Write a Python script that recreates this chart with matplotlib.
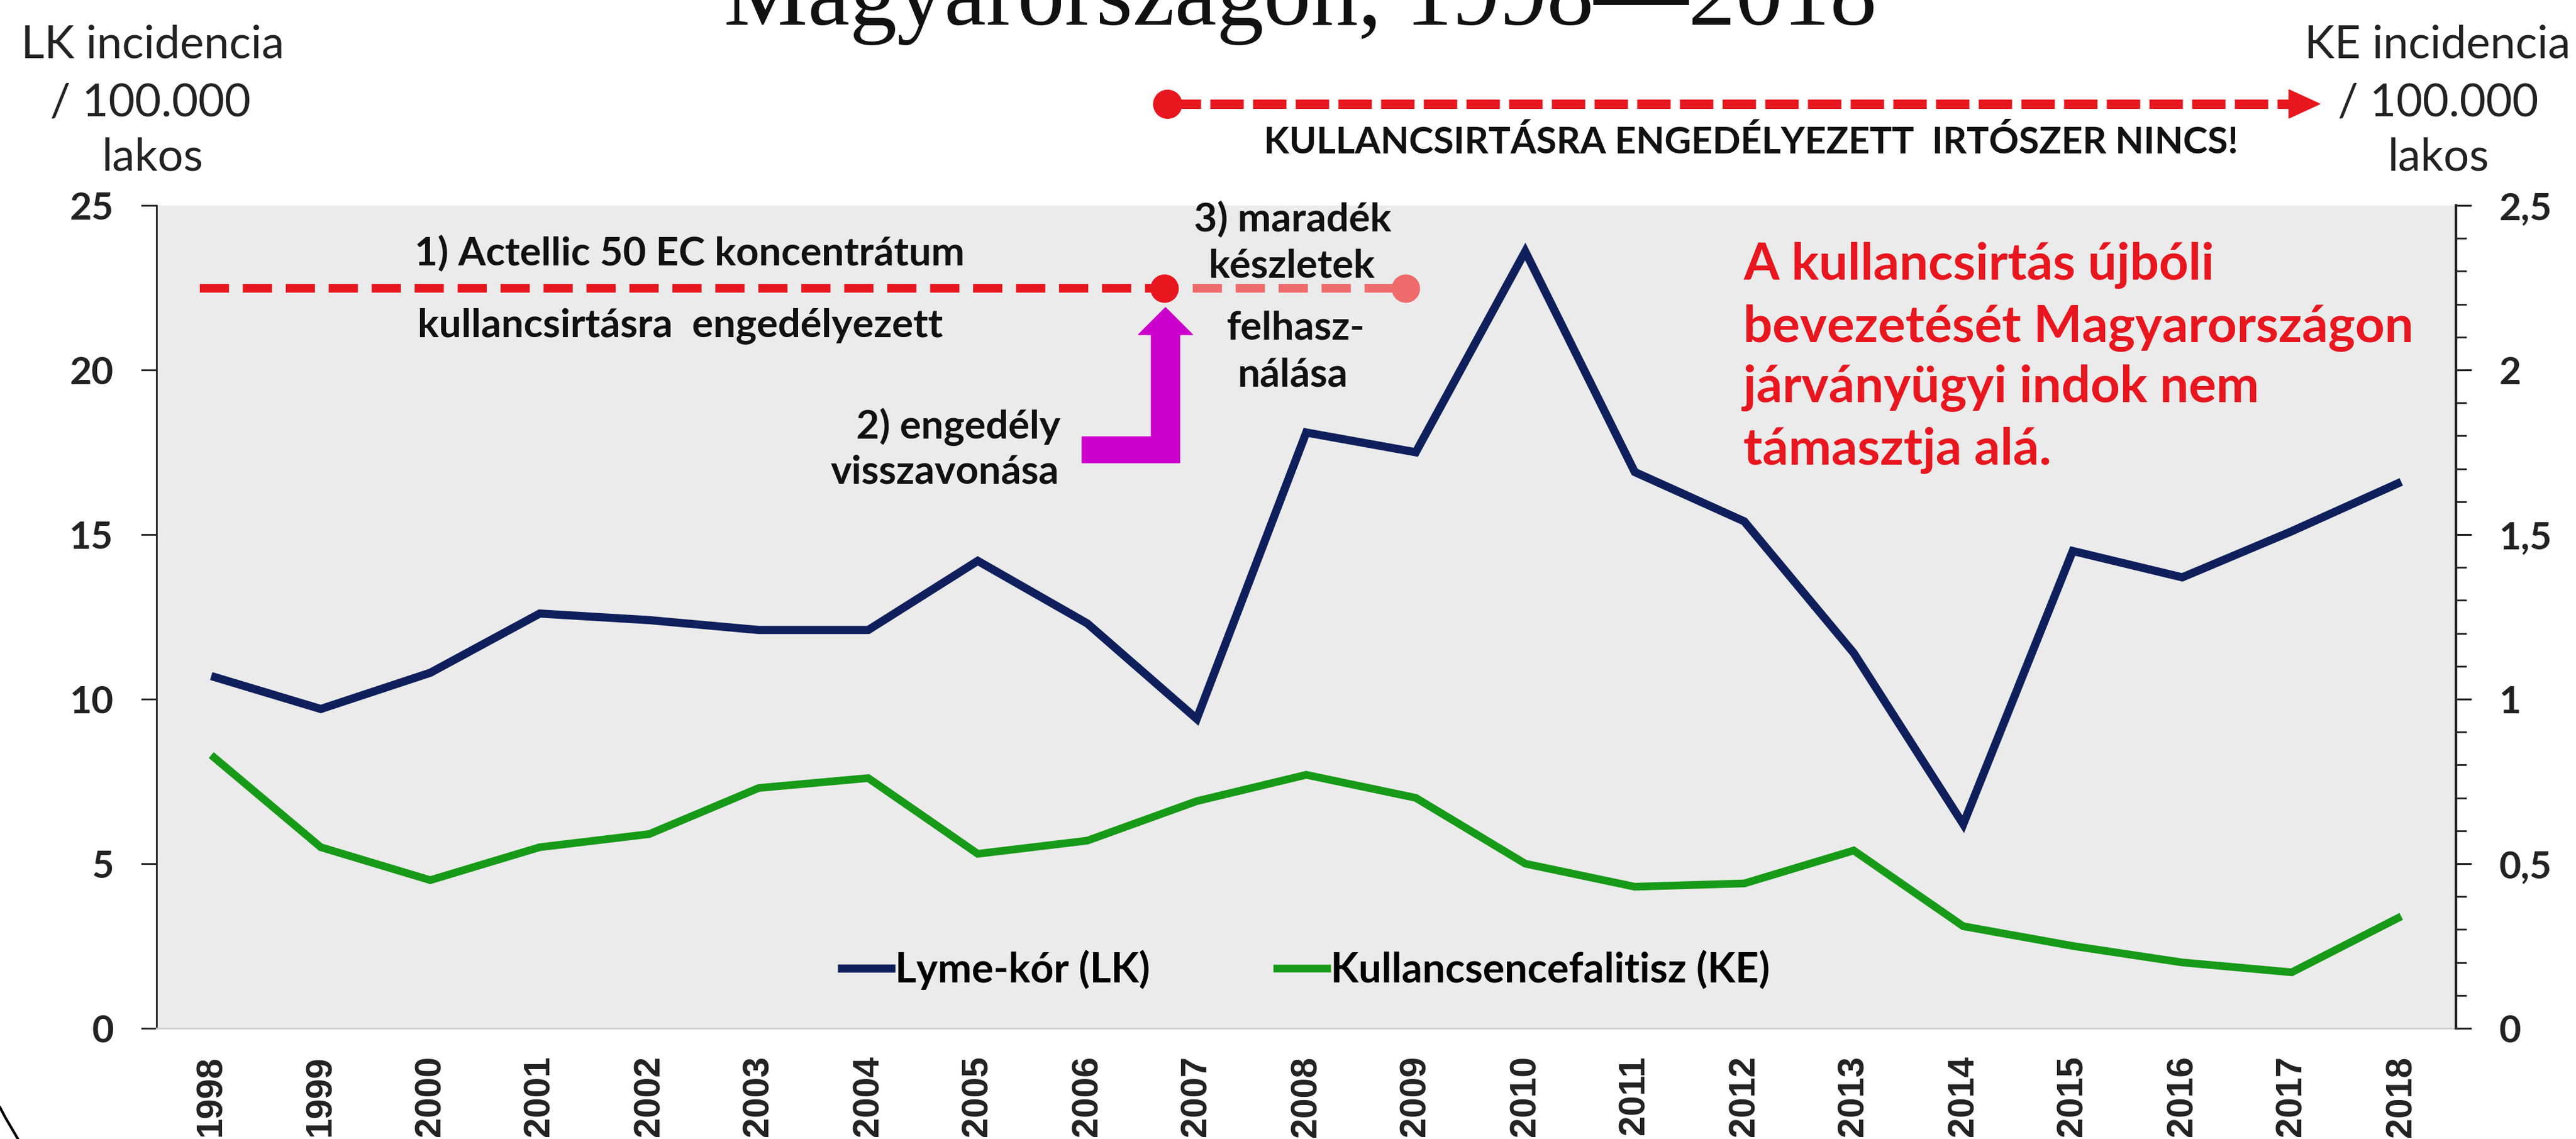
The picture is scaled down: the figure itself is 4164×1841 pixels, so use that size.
import matplotlib
matplotlib.use("Agg")
import matplotlib.pyplot as plt
from matplotlib.patches import Polygon
from matplotlib.lines import Line2D
from matplotlib.ticker import MultipleLocator

# ---------------- data ----------------
years = [str(y) for y in range(1998, 2019)]
lyme_lk = [10.7, 9.7, 10.8, 12.6, 12.4, 12.1, 12.1, 14.2, 12.3, 9.4, 18.1,
           17.5, 23.6, 16.9, 15.4, 11.4, 6.2, 14.5, 13.7, 15.1, 16.6]
tbe_ke = [0.83, 0.55, 0.45, 0.55, 0.59, 0.73, 0.76, 0.53, 0.57, 0.69, 0.77,
          0.70, 0.50, 0.43, 0.44, 0.54, 0.31, 0.25, 0.20, 0.17, 0.34]
lk_ticks = [0, 5, 10, 15, 20, 25]
ke_ticks = [0, 0.5, 1, 1.5, 2, 2.5]
ke_tick_labels = ["0", "0,5", "1", "1,5", "2", "2,5"]
series_names = ["Lyme-kór (LK)", "Kullancsencefalitisz (KE)"]
title = "Magyarországon, 1998\u20142018"

# ---------------- figure ----------------
W, H = 4164, 1841
fig = plt.figure(figsize=(W / 100, H / 100), dpi=100)
fig.patch.set_facecolor("white")
renderer = fig.canvas.get_renderer()

SANS = ["Lato", "DejaVu Sans"]
NARROW = ["Liberation Sans Narrow", "Liberation Sans", "DejaVu Sans"]
SERIF = ["Liberation Serif", "DejaVu Serif"]
RED = "#E8161E"
LIGHTRED = "#EF6A6A"
NAVY = "#0F1F5C"
GREEN = "#179A17"
MAGENTA = "#CC00CC"


def fx(px):
    return px / W


def fy(py):
    return 1 - py / H


def fit_size(s, width_px, **kw):
    t = fig.text(0, 0, s, fontsize=100, **kw)
    w = t.get_window_extent(renderer).width
    t.remove()
    return 100 * width_px / w


def ftext(px, py, s, width_px, ha="center", va="center", size=None, **kw):
    if size is None:
        size = fit_size(s, width_px, **kw)
    return fig.text(fx(px), fy(py), s, fontsize=size, ha=ha, va=va, **kw)


# ---------------- axes ----------------
L, R, T, B = 253, 3970, 332, 1662
ax = fig.add_axes([fx(L), fy(B), (R - L) / W, (B - T) / H])
ax.set_facecolor("#EBEBEB")
xs = list(range(len(years)))
ax.set_xlim(-0.5, len(years) - 0.5)
ax.set_ylim(0, 25)
ln1, = ax.plot(xs, lyme_lk, color=NAVY, lw=9.5, solid_joinstyle="miter",
               solid_capstyle="butt", zorder=3)

ax2 = ax.twinx()
ax2.set_ylim(0, 2.5)
ln2, = ax2.plot(xs, tbe_ke, color=GREEN, lw=9, solid_joinstyle="miter",
                solid_capstyle="butt", zorder=3)

for s in ["top", "right"]:
    ax.spines[s].set_visible(False)
ax.spines["left"].set_color("#222222")
ax.spines["left"].set_linewidth(2)
ax.spines["bottom"].set_color("#CFCFCF")
ax.spines["bottom"].set_linewidth(2)
for s in ["top", "left", "bottom"]:
    ax2.spines[s].set_visible(False)
ax2.spines["right"].set_color("#222222")
ax2.spines["right"].set_linewidth(3)

tick_fs = fit_size("25", 71, family=SANS, fontweight="bold")
ax.set_yticks(lk_ticks)
ax.set_yticklabels([str(v) for v in lk_ticks], family=SANS, fontweight="bold",
                   fontsize=tick_fs, color="#222222")
ax.tick_params(axis="y", direction="out", length=18, width=2, pad=32,
               color="#222222")

year_fs = fit_size("1998", 131, family=NARROW, fontweight="bold")
ax.set_xticks(xs)
ax.set_xticklabels(years, rotation=90, family=NARROW, fontweight="bold",
                   fontsize=year_fs, color="#222222")
ax.tick_params(axis="x", length=0, pad=32)

ax2.set_yticks(ke_ticks)
ax2.set_yticklabels(ke_tick_labels, family=SANS, fontweight="bold",
                    fontsize=tick_fs, color="#222222")
ax2.yaxis.set_minor_locator(MultipleLocator(0.1))
ax2.tick_params(axis="y", which="major", direction="out", length=18, width=2.2,
                pad=32, color="#222222")
ax2.tick_params(axis="y", which="minor", direction="out", length=12, width=2,
                color="#222222")

# ---------------- legend ----------------
leg_fs = fit_size(series_names[0], 412, family=SANS, fontweight="bold")
fs_px = leg_fs * 100 / 72
ax2.legend([ln1, ln2], series_names, loc="center left",
           bbox_to_anchor=(fx(1354), fy(1568)), bbox_transform=fig.transFigure,
           ncol=2, frameon=False, handlelength=93 / fs_px, handletextpad=0,
           columnspacing=199 / fs_px, borderpad=0, borderaxespad=0,
           prop={"family": SANS, "weight": "bold", "size": leg_fs})

# ---------------- title & axis labels ----------------
ts = fit_size(title, 1865, family=SERIF)
fig.text(fx(2102), fy(40), title, ha="center", va="baseline", family=SERIF,
         fontsize=ts, color="#111111")

lab_fs = fit_size("LK incidencia", 426, family=SANS)
ftext(247, 73, "LK incidencia", 0, size=lab_fs, family=SANS, color="#222222")
ftext(243, 167, "/ 100.000", 0, size=lab_fs, family=SANS, color="#222222")
ftext(247, 255, "lakos", 0, size=lab_fs, family=SANS, color="#222222")
ftext(3940, 73, "KE incidencia", 0, size=lab_fs, family=SANS, color="#222222")
ftext(3941, 167, "/ 100.000", 0, size=lab_fs, family=SANS, color="#222222")
ftext(3942, 255, "lakos", 0, size=lab_fs, family=SANS, color="#222222")

# ---------------- annotations ----------------
bold = dict(family=SANS, fontweight="bold", color="#111111")
ftext(2830, 230, "KULLANCSIRTÁSRA ENGEDÉLYEZETT  IRTÓSZER NINCS!", 1575, **bold)
ann_fs = fit_size("1) Actellic 50 EC koncentrátum", 890, **bold)
ftext(1115, 409, "1) Actellic 50 EC koncentrátum", 0, size=ann_fs, **bold)
ftext(1100, 527, "kullancsirtásra  engedélyezett", 0, size=ann_fs, **bold)
ftext(1714, 690, "2) engedély", 0, ha="right", size=ann_fs, **bold)
ftext(1712, 763, "visszavonása", 0, ha="right", size=ann_fs, **bold)
ftext(2089, 354, "3) maradék", 0, size=ann_fs, **bold)
ftext(2088, 430, "készletek", 0, size=ann_fs, **bold)
ftext(2094, 530, "felhasz-", 0, size=ann_fs, **bold)
ftext(2089, 606, "nálása", 0, size=ann_fs, **bold)

red_kw = dict(family=SANS, fontweight="bold", color=RED)
red_fs = fit_size("bevezetését Magyarországon", 1083, **red_kw)
for py, line in zip([429, 530, 627, 728],
                    ["A kullancsirtás újbóli", "bevezetését Magyarországon",
                     "járványügyi indok nem", "támasztja alá."]):
    ftext(2818, py, line, 0, ha="left", size=red_fs, **red_kw)

# dashed red lines and dots
fig.add_artist(Line2D([fx(323), fx(1882)], [fy(466), fy(466)], lw=10,
                      color=RED, ls=(0, (3.4, 1.6)), dash_capstyle="butt"))
fig.add_artist(Line2D([fx(1928), fx(2272)], [fy(466), fy(466)], lw=10,
                      color=LIGHTRED, ls=(0, (3.4, 1.6)), dash_capstyle="butt"))
fig.add_artist(Line2D([fx(1882)], [fy(466)], marker="o", ms=32, color=RED,
                      ls="none"))
fig.add_artist(Line2D([fx(2272)], [fy(466)], marker="o", ms=32,
                      color=LIGHTRED, ls="none"))

fig.add_artist(Line2D([fx(1887), fx(3705)], [fy(168), fy(168)], lw=10.8,
                      color=RED, ls=(0, (3.6, 1.0)), dash_capstyle="butt"))
fig.add_artist(Line2D([fx(1887)], [fy(168)], marker="o", ms=33, color=RED,
                      ls="none"))
fig.add_artist(Polygon([(fx(3700), fy(145)), (fx(3750), fy(168)),
                        (fx(3700), fy(191))], closed=True, color=RED,
                       transform=fig.transFigure))

# magenta L-shaped arrow
arrow_px = [(1749, 748), (1907, 748), (1907, 541), (1928, 541), (1884, 497),
            (1840, 541), (1861, 541), (1861, 706), (1749, 706)]
fig.add_artist(Polygon([(fx(a), fy(b)) for a, b in arrow_px], closed=True,
                       color=MAGENTA, transform=fig.transFigure))

# corner arc decoration
fig.add_artist(Line2D([fx(0), fx(9), fx(19), fx(29)],
                      [fy(1790), fy(1807), fy(1824), fy(1841)],
                      lw=3, color="black"))

fig.savefig("out.png", dpi=100, facecolor="white")
